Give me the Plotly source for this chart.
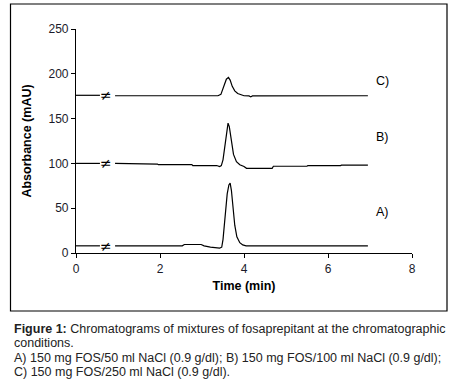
import plotly.graph_objects as go

# Chromatogram A: 150 mg FOS / 50 ml NaCl
time_a = [0, 0.57, None, 0.93, 2.53, 2.58, 2.98, 3.05, 3.2, 3.42, 3.47, 3.5, 3.55, 3.6, 3.64, 3.67, 3.7, 3.74, 3.78, 3.83, 3.9, 3.97, 4.05, 6.95]
abs_a = [8, 8, None, 8, 8, 9.5, 9.5, 8, 6.5, 5.5, 6.5, 15, 40, 66, 76, 78, 70, 50, 31, 18, 11.5, 9, 8, 8]

# Chromatogram B: 150 mg FOS / 100 ml NaCl
time_b = [0, 0.57, None, 0.93, 1.18, 1.2, 1.94, 1.96, 2.76, 2.78, 3.35, 3.42, 3.46, 3.5, 3.55, 3.59, 3.62, 3.65, 3.7, 3.75, 3.82, 3.9, 4.0, 4.06, 4.67, 4.7, 5.5, 5.52, 6.3, 6.32, 6.95]
abs_b = [100, 100, None, 100, 100, 99.3, 99.3, 98.6, 98.6, 97.6, 97.6, 96.5, 97.5, 104, 122, 140, 145, 141, 124, 110, 102, 98.5, 96.5, 94.5, 94.5, 96.8, 96.8, 97.5, 97.5, 98, 98]

# Chromatogram C: 150 mg FOS / 250 ml NaCl
time_c = [0, 0.57, None, 0.93, 3.38, 3.45, 3.52, 3.58, 3.63, 3.67, 3.72, 3.78, 3.85, 3.92, 4.0, 4.12, 4.16, 4.2, 6.95]
abs_c = [176, 176, None, 175.5, 175.5, 177, 186, 194, 196, 193, 186, 181, 178, 176.5, 175.5, 175.3, 174.2, 175.3, 175.5]

labels = ["A)", "B)", "C)"]
label_x = [7.1, 7.1, 7.1]
label_y = [46, 130, 192.5]

break_x = 0.72
break_y = [8, 100, 176]

x_ticks = [0, 2, 4, 6, 8]
y_ticks = [0, 50, 100, 150, 200, 250]

caption = [
    "<b>Figure 1:</b> Chromatograms of mixtures of fosaprepitant at the chromatographic",
    "conditions.",
    "A) 150 mg FOS/50 ml NaCl (0.9 g/dl); B) 150 mg FOS/100 ml NaCl (0.9 g/dl);",
    "C) 150 mg FOS/250 ml NaCl (0.9 g/dl).",
]

W, H = 455, 384
L, R, T, B = 76, 43, 29, 131
pw, ph = W - L - R, H - T - B


def px(x):
    return (x - L) / pw


def py(y):
    return (H - B - y) / ph


fig = go.Figure()
for t, a in [(time_a, abs_a), (time_b, abs_b), (time_c, abs_c)]:
    fig.add_trace(go.Scatter(x=t, y=a, mode="lines", line=dict(color="black", width=1.2),
                             connectgaps=False, showlegend=False, hoverinfo="skip"))

for lab, lx, ly in zip(labels, label_x, label_y):
    fig.add_annotation(x=lx, y=ly, text=lab, showarrow=False, xanchor="left", yanchor="middle",
                       font=dict(size=12.5, color="black", family="Liberation Sans, Arial, sans-serif"))

for by in break_y:
    fig.add_annotation(x=break_x, y=by, text="≠", showarrow=False, xanchor="center", yanchor="middle",
                       font=dict(size=14, color="black", family="DejaVu Sans, sans-serif"))

# outer frame
fig.add_shape(type="rect", xref="paper", yref="paper", x0=px(10.5), x1=px(447), y0=py(311), y1=py(4),
              line=dict(color="black", width=1.2), fillcolor="rgba(0,0,0,0)", layer="above")

cap_y = [329, 343, 358, 372]
for txt, cy in zip(caption, cap_y):
    fig.add_annotation(xref="paper", yref="paper", x=px(12), y=py(cy), text=txt, showarrow=False,
                       xanchor="left", yanchor="middle",
                       font=dict(size=12.5, color="#222222", family="Liberation Sans, Arial, sans-serif"))

fig.update_layout(
    width=W, height=H,
    margin=dict(l=L, r=R, t=T, b=B),
    paper_bgcolor="white", plot_bgcolor="white",
    font=dict(family="Liberation Sans, Arial, sans-serif", color="black"),
    xaxis=dict(range=[0, 8], tickvals=x_ticks, ticks="outside", ticklen=4, tickcolor="black",
               showline=True, linecolor="black", linewidth=1.2, showgrid=False, zeroline=False,
               tickfont=dict(size=12, color="#1a1a2a"),
               title=dict(text="<b>Time (min)</b>", font=dict(size=12.5), standoff=6)),
    yaxis=dict(range=[0, 250], tickvals=y_ticks, ticks="outside", ticklen=4, tickcolor="black",
               showline=True, linecolor="black", linewidth=1.2, showgrid=False, zeroline=False,
               tickfont=dict(size=12, color="#1a1a2a"),
               title=dict(text="<b>Absorbance (mAU)</b>", font=dict(size=12.5), standoff=14)),
)

fig.write_html("out.html", config={"displayModeBar": False},
               post_script="document.body.style.margin='0px';")
